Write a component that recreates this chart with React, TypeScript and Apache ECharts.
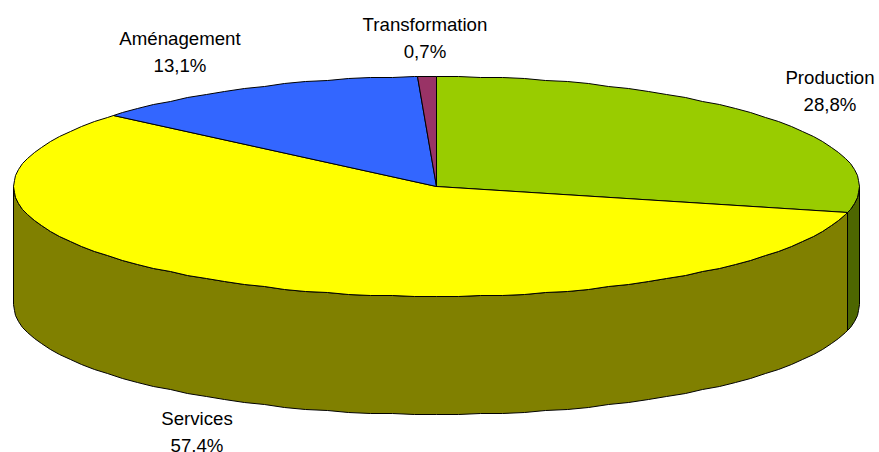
import React, { useEffect, useRef } from "react";
import * as echarts from "echarts";

const categories = ["Production", "Services", "Aménagement", "Transformation"];
const shares = [28.8, 57.4, 13.1, 0.7];
const shareLabels = ["28,8%", "57,4%", "13,1%", "0,7%"];
const topColors = ["#99CC00", "#FFFF00", "#3366FF", "#993366"];
const sideColors = ["#4D6600", "#808000", "#1A3380", "#4D1A33"];

const PIE = { cx: 436, cy: 186, rx: 423, ry: 110, depth: 118, step: 3 };
const LABEL_ANCHORS = [
  { x: 830, y: 64 },
  { x: 197, y: 405 },
  { x: 180, y: 25 },
  { x: 425, y: 11 },
];
const LINE_HEIGHT = 27;

const rad = (deg: number) => (deg * Math.PI) / 180;
const rimPoint = (deg: number, drop = 0): [number, number] => [
  Math.round(PIE.cx + PIE.rx * Math.sin(rad(deg))) + 0.5,
  Math.round(PIE.cy - PIE.ry * Math.cos(rad(deg)) + drop) + 0.5,
];
const arcAngles = (a0: number, a1: number) => {
  const out = [a0];
  let a = Math.ceil(a0 / PIE.step + 1e-6) * PIE.step;
  while (a < a1) {
    out.push(a);
    a += PIE.step;
  }
  out.push(a1);
  return out;
};

export default function App() {
  const ref = useRef<HTMLDivElement>(null);
  useEffect(() => {
    const chart = echarts.init(ref.current!, undefined, { renderer: "svg" });
    const total = shares.reduce((s, v) => s + v, 0);
    const starts: number[] = [];
    shares.reduce((acc, v) => {
      starts.push((acc / total) * 360);
      return acc + v;
    }, 0);

    const stroke = { stroke: "#000", lineWidth: 1 };
    chart.setOption({
      animation: false,
      backgroundColor: "#fff",
      series: [
        {
          type: "custom",
          coordinateSystem: "none",
          silent: true,
          data: shares.map((v, i) => [i, v]),
          renderItem: (params: any, api: any) => {
            const i = params.dataIndex as number;
            const value = api.value(1) as number;
            const a0 = starts[i];
            const a1 = a0 + (value / total) * 360;
            const children: any[] = [];

            // Side wall: only the front half (90°..270° clockwise from the top) shows.
            const w0 = Math.max(a0, 90);
            const w1 = Math.min(a1, 270);
            if (w1 > w0) {
              const angles = arcAngles(w0, w1);
              const upper = angles.map((a) => rimPoint(a));
              const lower = angles.map((a) => rimPoint(a, PIE.depth)).reverse();
              children.push({
                type: "polygon",
                z2: 1,
                shape: { points: [...upper, ...lower] },
                style: { fill: sideColors[i], ...stroke },
              });
            }

            // Top face.
            const centre: [number, number] = [PIE.cx + 0.5, PIE.cy + 0.5];
            children.push({
              type: "polygon",
              z2: 2,
              shape: { points: [centre, ...arcAngles(a0, a1).map((a) => rimPoint(a))] },
              style: { fill: topColors[i], ...stroke },
            });

            // Label.
            const anchor = LABEL_ANCHORS[i];
            children.push({
              type: "text",
              z2: 3,
              style: {
                text: `${categories[i]}\n${shareLabels[i]}`,
                x: anchor.x,
                y: anchor.y,
                fill: "#000",
                align: "center",
                verticalAlign: "top",
                lineHeight: LINE_HEIGHT,
                fontFamily: "Liberation Sans",
                fontSize: 18.67,
              },
            });
            return { type: "group", children };
          },
        },
      ],
    });
    return () => chart.dispose();
  }, []);
  return (
    <div
      ref={ref}
      style={{ position: "absolute", left: 0, top: 0, width: 879, height: 452 }}
    />
  );
}
